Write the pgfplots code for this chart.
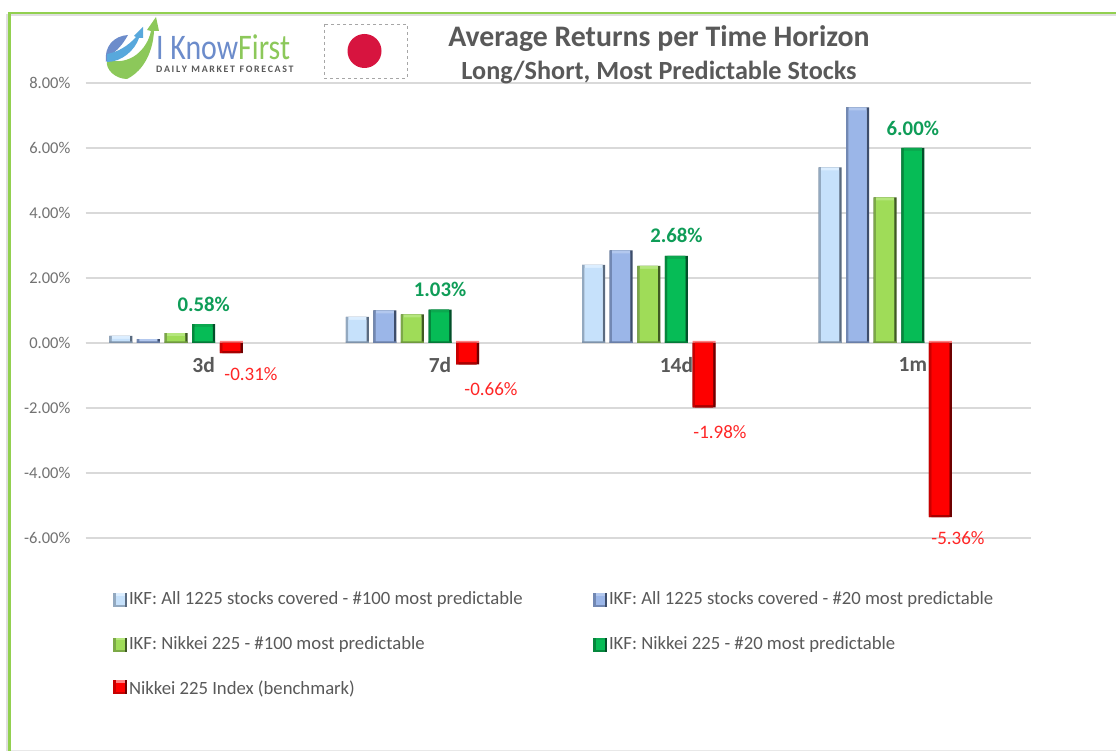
\documentclass[border=0pt]{standalone}
\usepackage{pgfplots}
\pgfplotsset{compat=1.18}
\usepackage{fontspec}
\setmainfont{Carlito}
\definecolor{gridc}{HTML}{D9D9D9}
\definecolor{txt}{HTML}{595959}
\definecolor{frameg}{HTML}{92D050}
\definecolor{dkg}{HTML}{0F9D58}
\definecolor{aM}{HTML}{C6E1FB}\definecolor{aT}{HTML}{DCEEFF}\definecolor{aL}{HTML}{93A9C0}\definecolor{aR}{HTML}{5A6B80}\definecolor{aB}{HTML}{7F93AA}
\definecolor{bM}{HTML}{9BB6E8}\definecolor{bT}{HTML}{B3C8EE}\definecolor{bL}{HTML}{7288B3}\definecolor{bR}{HTML}{3D4D6B}\definecolor{bB}{HTML}{6A7FA8}
\definecolor{cM}{HTML}{9FDC58}\definecolor{cT}{HTML}{B5E67D}\definecolor{cL}{HTML}{7CA947}\definecolor{cR}{HTML}{3F5A22}\definecolor{cB}{HTML}{6F9A3E}
\definecolor{dM}{HTML}{06BC56}\definecolor{dT}{HTML}{0BA84F}\definecolor{dL}{HTML}{05873D}\definecolor{dR}{HTML}{02502A}\definecolor{dB}{HTML}{047A38}
\definecolor{eM}{HTML}{FE0000}\definecolor{eT}{HTML}{FF8080}\definecolor{eL}{HTML}{C80000}\definecolor{eR}{HTML}{6E0000}\definecolor{eB}{HTML}{A80000}
\definecolor{flagred}{HTML}{D7143F}
\definecolor{lgreen}{HTML}{8CC85A}
\definecolor{lblue}{HTML}{6C8CCB}
\definecolor{lsky}{HTML}{58A8DC}
\newcommand{\swatch}[1]{\fill[#1R] (0pt,-8pt) rectangle (14pt,6pt);\fill[#1L] (0pt,-8pt) rectangle (11.5pt,6pt);\fill[#1T] (2.5pt,-6pt) rectangle (11.5pt,6pt);\fill[#1M] (2.5pt,-6pt) rectangle (11.5pt,3.5pt);}
% #1 bar shift, #2 colour prefix, #3 data, #4 options of the first layer
\newcommand{\posbars}[4]{%
 \addplot[draw=none,fill=#2R,bar width=23pt,bar shift=#1pt,legend image code/.code={\swatch{#2}},#4] coordinates {#3};
 \addplot[forget plot,draw=none,fill=#2L,bar width=20.5pt,bar shift={#1pt-1.25pt}] coordinates {#3};
 \addplot[forget plot,draw=none,fill=#2T,bar width=18pt,bar shift=#1pt] coordinates {#3};
 \addplot[forget plot,draw=none,fill=#2M,bar width=18pt,bar shift=#1pt,y filter/.expression={y-0.09}] coordinates {#3};
 \addplot[forget plot,draw=none,fill=#2B,bar width=23pt,bar shift=#1pt] coordinates {(0,0.05)(1,0.05)(2,0.05)(3,0.05)};
}
\newcommand{\negbars}[4]{%
 \addplot[draw=none,fill=#2T,bar width=23pt,bar shift=#1pt,yshift=2pt,legend image code/.code={\swatch{#2}},#4] coordinates {#3};
 \addplot[forget plot,draw=none,fill=#2R,bar width=23pt,bar shift=#1pt] coordinates {#3};
 \addplot[forget plot,draw=none,fill=#2L,bar width=20.5pt,bar shift={#1pt-1.25pt}] coordinates {#3};
 \addplot[forget plot,draw=none,fill=#2B,bar width=18pt,bar shift=#1pt] coordinates {#3};
 \addplot[forget plot,draw=none,fill=#2M,bar width=18pt,bar shift=#1pt,y filter/.expression={y+0.07}] coordinates {#3};
}
\begin{document}
\begin{tikzpicture}[x=1pt,y=1pt]
\path[use as bounding box,fill=white] (0,0) rectangle (1116,751);
% frame
\fill[gray!25] (6,0) rectangle (8,737);
\fill[gray!25] (10.5,734.5) rectangle (1116,736.5);
\fill[frameg] (8,0) rectangle (10.5,739);
\fill[frameg] (8,736.5) rectangle (1116,739);
\fill[gridc!60] (10.5,0.2) rectangle (1116,1.2);
\begin{axis}[at={(85.5pt,213pt)},anchor=south west,scale only axis,width=945.5pt,height=455pt,
 clip=false,xmin=-0.5,xmax=3.5,ymin=-6,ymax=8,
 axis x line=middle,axis y line=left,
 x axis line style={-,draw=gridc,line width=1.5pt},
 y axis line style={-,draw=none},
 ybar,bar width=23pt,
 ytick={-6,-4,-2,0,2,4,6,8},
 ymajorgrids,grid style={gridc,line width=1.5pt},
 tick style={draw=none},major tick length=0pt,
 xtick={0,1,2,3},xticklabels={3d,7d,14d,1m},
 xticklabel style={font=\fontsize{21.5}{23}\selectfont\bfseries,text=txt,inner sep=0pt,yshift=-14pt},
 yticklabel={\pgfmathprintnumber[fixed,fixed zerofill,precision=2,assume math mode=true]{\tick}\%},
 yticklabel style={font=\fontsize{16.5}{18}\selectfont,text=txt!85,inner sep=0pt,xshift=-15pt},
 legend columns=2,
 legend style={at={(0.0291,-0.114)},anchor=north west,draw=none,fill=none,inner sep=0pt,outer sep=0pt,
  font=\fontsize{18.7}{21}\selectfont,text=txt,
  /tikz/every even column/.append style={column sep=0pt},
  row sep=26pt,
  cells={anchor=west}},
 /pgfplots/legend cell align=left,
]
\posbars{-82.8}{a}{(0,0.22)(1,0.80)(2,2.40)(3,5.40)}{}
\addlegendentry{\makebox[462pt][l]{IKF: All 1225 stocks covered - \#100 most predictable}}
\posbars{-55.2}{b}{(0,0.12)(1,1.00)(2,2.85)(3,7.25)}{}
\addlegendentry{IKF: All 1225 stocks covered - \#20 most predictable}
\posbars{-27.6}{c}{(0,0.30)(1,0.88)(2,2.37)(3,4.48)}{}
\addlegendentry{\makebox[462pt][l]{IKF: Nikkei 225 - \#100 most predictable}}
\posbars{0}{d}{(0,0.58)(1,1.03)(2,2.68)(3,6.00)}{nodes near coords={\textcolor{dkg}{\pgfmathprintnumber[fixed,fixed zerofill,precision=2,assume math mode=true]{\pgfplotspointmeta}\%}},
 every node near coord/.append style={font=\fontsize{20.8}{22}\selectfont\bfseries,inner sep=0pt,anchor=center,yshift=20pt}}
\addlegendentry{IKF: Nikkei 225 - \#20 most predictable}
\negbars{27.6}{e}{(0,-0.31)(1,-0.66)(2,-1.98)(3,-5.36)}{}
\addlegendentry{Nikkei 225 Index (benchmark)}
\end{axis}
% red value labels
\foreach \x/\y/\t in {251/374/-0.31,491/389/-0.66,720/432/-1.98,958/538/-5.36}
  \node[font=\fontsize{19}{21}\selectfont,text=red!85!white,inner sep=0pt] at (\x,751-\y) {\t\%};
% titles
\node[font=\fontsize{29.8}{32}\selectfont\bfseries,text=txt,inner sep=0pt] at (659,751-39) {Average Returns per Time Horizon};
\node[font=\fontsize{26.2}{28}\selectfont\bfseries,text=txt,inner sep=0pt] at (659,751-73) {Long/Short, Most Predictable Stocks};
% flag
\draw[gray!70,dashed,line width=0.9pt] (324,751-24) rectangle (407,751-78);
\fill[flagred] (364.5,751-51) circle (17);
% logo
\fill[lgreen] (127,751-79) .. controls (145,751-70) and (153,751-50) .. (154,751-31) -- (159,751-31) -- (156,751-17) -- (147,751-30) -- (151,751-31) .. controls (147,751-50) and (130,751-66) .. (107,751-60) .. controls (105,751-70) and (116,751-79) .. (127,751-79) -- cycle;
\fill[lblue] (106,751-62) .. controls (104,751-46) and (114,751-36) .. (128,751-35) .. controls (124,751-42) and (120,751-48) .. (112,751-54) -- cycle;
\fill[lsky] (107,751-62) .. controls (122,751-62) and (135,751-50) .. (139,751-38) -- (143,751-38) -- (143,751-27) -- (134,751-36) -- (136,751-37) .. controls (128,751-46) and (118,751-52) .. (107,751-54) -- cycle;
\node[anchor=base west,inner sep=0pt,font=\fontsize{36}{38}\selectfont,xscale=0.83] at (156,751-60) {\textcolor{lblue}{I Know}\textcolor{lgreen}{First}};
\node[anchor=west,inner sep=0pt,font=\fontsize{9.9}{10}\selectfont\bfseries,text=txt] at (156,751-69) {D\,A\,I\,L\,Y\ \ M\,A\,R\,K\,E\,T\ \ F\,O\,R\,E\,C\,A\,S\,T};
\end{tikzpicture}
\end{document}
